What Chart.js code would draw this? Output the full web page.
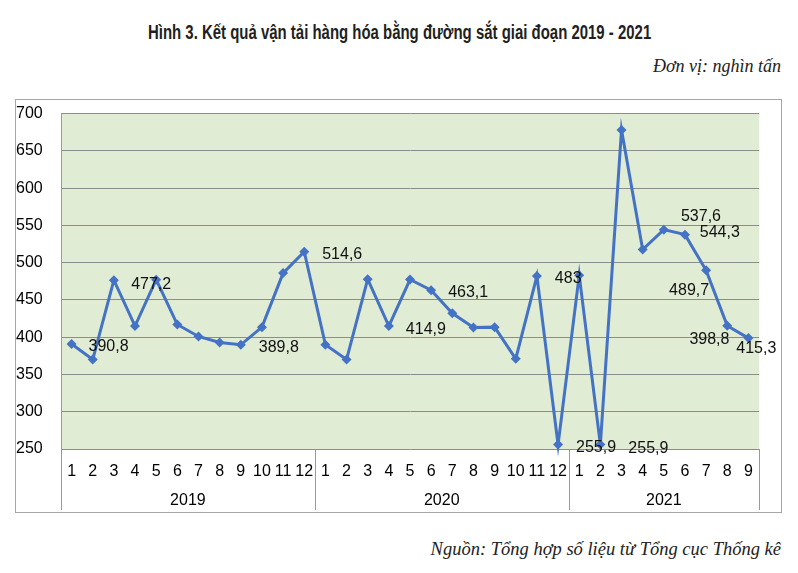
<!DOCTYPE html>
<html>
<head>
<meta charset="utf-8">
<script src="https://cdn.jsdelivr.net/npm/chart.js@4/dist/chart.umd.min.js"></script>
<style>
  body { margin: 0; background: #fff; width: 798px; height: 573px; position: relative; overflow: hidden; }
  #title { position: absolute; left: 148px; top: 21px; font: bold 20px 'Liberation Sans Narrow', 'Liberation Sans', sans-serif; color: #231f20; white-space: nowrap; transform-origin: 0 0; }
  #unit { position: absolute; right: 17px; top: 56px; font: italic 18px 'Liberation Serif', serif; color: #222; }
  #frame { position: absolute; left: 15px; top: 99px; width: 765px; height: 412px; border: 1px solid #a6a6a6; }
  #src { position: absolute; right: 17px; top: 539px; font: italic 18.5px 'Liberation Serif', serif; color: #222; }
</style>
</head>
<body>
<div id="title">Hình 3. Kết quả vận tải hàng hóa bằng đường sắt giai đoạn 2019 - 2021</div>
<div id="unit">Đơn vị: nghìn tấn</div>
<div id="frame"><canvas id="chart" width="765" height="412"></canvas></div>
<div id="src">Nguồn: Tổng hợp số liệu từ Tổng cục Thống kê</div>

<script>
// Dữ liệu (nghìn tấn) theo tháng
const years   = ['2019', '2020', '2021'];
const months  = [
  ['1','2','3','4','5','6','7','8','9','10','11','12'],
  ['1','2','3','4','5','6','7','8','9','10','11','12'],
  ['1','2','3','4','5','6','7','8','9'],
];
const v2019 = [390.8, 370, 476.5, 415, 477.2, 417, 401, 393, 389.8, 413.5, 486, 514.6];
const v2020 = [390, 370, 477.8, 414.9, 477.4, 463.1, 432, 413, 413.5, 371, 482, 255.9];
const v2021 = [483, 255.9, 678, 517.5, 544.3, 537.6, 489.7, 415.3, 398.8];
const yTicks = [250, 300, 350, 400, 450, 500, 550, 600, 650, 700];

// Nhãn giá trị hiển thị (vị trí điểm trong chuỗi, chữ)
const labelIdx  = [0, 4, 8, 11, 15, 17, 24, 23, 25, 29, 28, 30, 32, 31];
const labelText = ['390,8','477,2','389,8','514,6','414,9','463,1','483','255,9','255,9','537,6','544,3','489,7','398,8','415,3'];

const values = [...v2019, ...v2020, ...v2021];
const labels = months.flat();

// Độ lệch (px) của từng nhãn so với điểm
const LABEL_OFFSETS = {
  0: [37, 3], 4: [-5, 5], 8: [38, 3], 11: [38, 3], 15: [37, 3], 17: [37, 2],
  24: [-11, 3], 23: [38, 3], 25: [48, 4], 29: [16, -18], 28: [56, 3],
  30: [-17, 20], 32: [-39, 1], 31: [29, 23],
};

const FONT = "'Liberation Sans', Arial, sans-serif";

// Fit the condensed title to its width
const t = document.getElementById('title');
t.style.transform = `scaleX(${503 / t.scrollWidth})`;

const plotBg = {
  id: 'plotBg',
  beforeDraw(chart) {
    const { ctx, chartArea: a } = chart;
    ctx.save();
    ctx.fillStyle = '#e1ecd5';
    ctx.fillRect(a.left, a.top, a.right - a.left, a.bottom - a.top);
    ctx.restore();
  }
};

const yearAxis = {
  id: 'yearAxis',
  afterDraw(chart) {
    const { ctx, chartArea: a, scales: { x } } = chart;
    const step = x.getPixelForValue(1) - x.getPixelForValue(0);
    ctx.save();
    ctx.strokeStyle = '#9a9a9a';
    ctx.lineWidth = 1;
    ctx.fillStyle = '#000';
    ctx.font = `16px ${FONT}`;
    ctx.textAlign = 'center';
    ctx.textBaseline = 'middle';
    let start = 0;
    const bounds = [a.left];
    months.forEach((m, g) => {
      const end = start + m.length - 1;
      const cx = (x.getPixelForValue(start) + x.getPixelForValue(end)) / 2;
      ctx.fillText(years[g], cx, 401);
      bounds.push(x.getPixelForValue(end) + step / 2);
      start = end + 1;
    });
    bounds.forEach(bx => {
      const px = Math.round(bx) + 0.5;
      ctx.beginPath();
      ctx.moveTo(px, a.bottom);
      ctx.lineTo(px, 410);
      ctx.stroke();
    });
    ctx.restore();
  }
};

const valueLabels = {
  id: 'valueLabels',
  afterDatasetsDraw(chart) {
    const { ctx } = chart;
    const pts = chart.getDatasetMeta(0).data;
    ctx.save();
    ctx.fillStyle = '#111';
    ctx.font = `16px ${FONT}`;
    ctx.textAlign = 'center';
    ctx.textBaseline = 'middle';
    labelIdx.forEach((i, k) => {
      const [dx, dy] = LABEL_OFFSETS[i] || [0, -12];
      ctx.fillText(labelText[k], pts[i].x + dx, pts[i].y + dy);
    });
    ctx.restore();
  }
};

new Chart(document.getElementById('chart'), {
  type: 'line',
  data: {
    labels,
    datasets: [{
      data: values,
      borderColor: '#4472c4',
      backgroundColor: '#4472c4',
      borderWidth: 3,
      pointStyle: 'rectRot',
      pointRadius: 5,
      pointBorderWidth: 0,
      tension: 0,
      clip: false,
    }]
  },
  options: {
    responsive: false,
    animation: false,
    layout: { padding: { top: 13, right: 22, left: 0, bottom: 0 } },
    plugins: { legend: { display: false }, tooltip: { enabled: false } },
    scales: {
      x: {
        type: 'category',
        offset: true,
        grid: { display: false, drawTicks: false, offset: true },
        border: { display: false },
        ticks: { color: '#000', font: { family: FONT, size: 16 }, padding: 13, maxRotation: 0, autoSkip: false },
        afterFit: s => { s.height = 63; },
      },
      y: {
        min: 250,
        max: 700,
        afterBuildTicks: s => { s.ticks = yTicks.map(v => ({ value: v })); },
        grid: { color: '#8c8c8c', lineWidth: 1, drawTicks: false },
        border: { display: true, color: '#9a9a9a' },
        ticks: { color: '#000', font: { family: FONT, size: 16 }, crossAlign: 'far', padding: 4 },
        afterFit: s => { s.width = 45; },
      }
    }
  },
  plugins: [plotBg, yearAxis, valueLabels]
});
</script>
</body>
</html>
